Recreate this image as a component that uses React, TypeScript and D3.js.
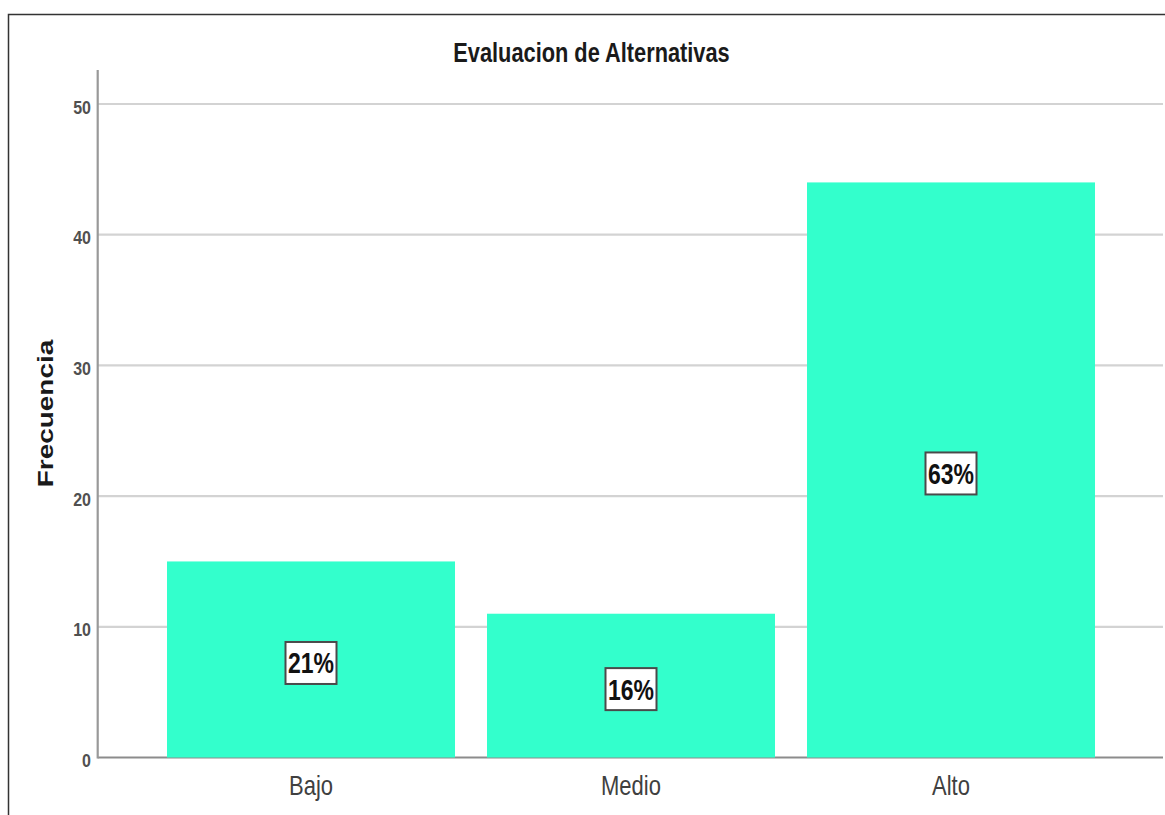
import React from "react";
import * as d3 from "d3";

// Frequencies per level
const categories: string[] = ["Bajo", "Medio", "Alto"];
const frequencies: number[] = [15, 11, 44];
const percentLabels: string[] = ["21%", "16%", "63%"];
const yTicks: number[] = [0, 10, 20, 30, 40, 50];

const title = "Evaluacion de Alternativas";
const yTitle = "Frecuencia";

const W = 1165;
const H = 815;
const FONT = "'Liberation Sans', Arial, sans-serif";
const SY = 1.27; // vertical stretch of the text glyphs
const BAR = "#33FFCC";

export default function App() {
  const x = d3
    .scaleBand<string>()
    .domain(categories)
    .range([151, 1111])
    .paddingInner(0.1)
    .paddingOuter(0.05);
  const y = d3.scaleLinear().domain([0, 50]).range([757.5, 104]);

  const axisX0 = 97.7;
  const plotRight = 1163;

  return (
    <svg
      width={W}
      height={H}
      style={{ position: "absolute", left: 0, top: 0, background: "#fff" }}
      fontFamily={FONT}
    >
      {/* frame */}
      <path d={`M8.5,${H} V14.5 H${W}`} fill="none" stroke="#333" strokeWidth={1.5} />

      {/* title */}
      <text
        transform={`translate(591.5,61.7) scale(1,${1.28})`}
        textAnchor="middle"
        fontSize={21.8}
        fontWeight="bold"
        fill="#1a1a1a"
      >
        {title}
      </text>

      {/* y title */}
      <text
        transform={`translate(52.5,413.5) scale(1,${SY}) rotate(-90)`}
        textAnchor="middle"
        fontSize={22}
        fontWeight="bold"
        fill="#1a1a1a"
      >
        {yTitle}
      </text>

      {/* gridlines */}
      {yTicks
        .filter((t) => t > 0)
        .map((t) => (
          <line
            key={`g${t}`}
            x1={axisX0}
            x2={plotRight}
            y1={y(t)}
            y2={y(t)}
            stroke="#d3d3d3"
            strokeWidth={2.2}
          />
        ))}

      {/* axes */}
      <line x1={axisX0} x2={plotRight} y1={y(0)} y2={y(0)} stroke="#8c8c8c" strokeWidth={2.2} />
      <line x1={axisX0} x2={axisX0} y1={70} y2={y(0) + 1} stroke="#999" strokeWidth={2.2} />

      {/* y tick labels */}
      {yTicks.map((t) => (
        <text
          key={`t${t}`}
          transform={`translate(91,${y(t) + 9.5}) scale(1,${1.2})`}
          textAnchor="end"
          fontSize={16}
          fontWeight="bold"
          fill="#505050"
        >
          {t}
        </text>
      ))}

      {/* bars */}
      {categories.map((c, i) => (
        <rect
          key={`b${c}`}
          x={x(c)}
          y={y(frequencies[i])}
          width={x.bandwidth()}
          height={y(0) - y(frequencies[i])}
          fill={BAR}
        />
      ))}

      {/* percentage labels */}
      {categories.map((c, i) => {
        const cx = (x(c) as number) + x.bandwidth() / 2;
        const cy = y(frequencies[i] / 2) + 3.5;
        const bw = 51;
        const bh = 42;
        return (
          <g key={`p${c}`}>
            <rect
              x={cx - bw / 2}
              y={cy - bh / 2}
              width={bw}
              height={bh}
              fill="#fff"
              stroke="#4a4a4a"
              strokeWidth={2}
            />
            <text
              transform={`translate(${cx},${cy + 10.4}) scale(1,${SY})`}
              textAnchor="middle"
              fontSize={23}
              fontWeight="bold"
              fill="#111"
            >
              {percentLabels[i]}
            </text>
          </g>
        );
      })}

      {/* category labels */}
      {categories.map((c) => (
        <text
          key={`c${c}`}
          transform={`translate(${(x(c) as number) + x.bandwidth() / 2},795) scale(1,${SY})`}
          textAnchor="middle"
          fontSize={22}
          fill="#404040"
        >
          {c}
        </text>
      ))}
    </svg>
  );
}
